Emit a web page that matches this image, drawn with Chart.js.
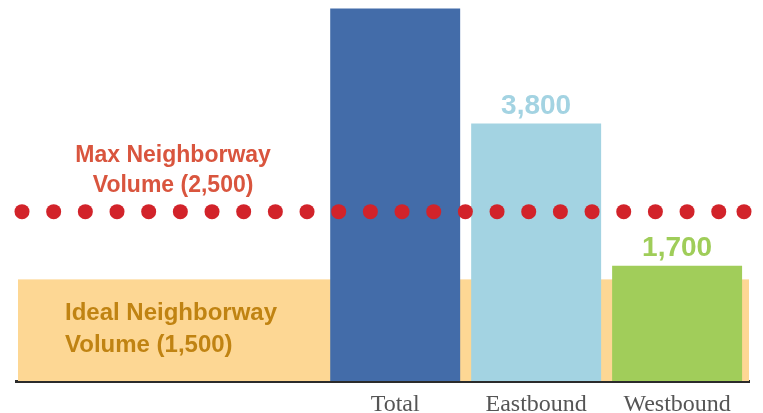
<!DOCTYPE html>
<html>
<head>
<meta charset="utf-8">
<script src="https://cdn.jsdelivr.net/npm/chart.js@4.4.1/dist/chart.umd.min.js"></script>
<style>
html,body{margin:0;padding:0;background:#fff;}
#wrap{width:763px;height:413px;position:relative;}
</style>
</head>
<body>
<div id="wrap"><canvas id="c"></canvas></div>
<script>
// ---- data ----
const categories = ['Total', 'Eastbound', 'Westbound'];
const volumes = [5500, 3800, 1700];
const barColors = ['#436ca9', '#a3d3e2', '#a1cd5a'];
const valueLabelColors = ['#436ca9', '#a3d3e2', '#9fcd59'];
const maxVolume = 2500;
const idealVolume = 1500;
const maxLabelLines = ['Max Neighborway', 'Volume (2,500)'];
const idealLabelLines = ['Ideal Neighborway', 'Volume (1,500)'];

const fmt = v => v.toLocaleString('en-US');

const overlay = {
  id: 'overlay',
  beforeDatasetsDraw(chart) {
    const {ctx, chartArea, scales} = chart;
    const y = scales.y;
    ctx.save();
    // ideal band
    const top = y.getPixelForValue(idealVolume);
    const bottom = y.getPixelForValue(0);
    ctx.fillStyle = '#fdd794';
    ctx.fillRect(chartArea.left + 2, top, chartArea.right - chartArea.left - 2, bottom - top);
    // ideal label
    ctx.fillStyle = '#c08312';
    ctx.font = 'bold 24px "Liberation Sans", Arial, sans-serif';
    ctx.textAlign = 'left';
    ctx.textBaseline = 'alphabetic';
    const lx = chartArea.left + 49;
    ctx.fillText(idealLabelLines[0], lx, top + 41);
    ctx.fillText(idealLabelLines[1], lx, top + 73);
    // max label
    const my = y.getPixelForValue(maxVolume);
    ctx.fillStyle = '#d9553e';
    ctx.font = 'bold 23px "Liberation Sans", Arial, sans-serif';
    ctx.textAlign = 'center';
    const mx = (chartArea.left + scales.x.getPixelForValue(0) - 65) / 2;
    ctx.fillText(maxLabelLines[0], mx, my - 50);
    ctx.fillText(maxLabelLines[1], mx, my - 20);
    ctx.restore();
  },
  afterDatasetsDraw(chart) {
    const {ctx, chartArea, scales} = chart;
    const y = scales.y;
    ctx.save();
    // value labels
    const meta = chart.getDatasetMeta(0);
    ctx.font = 'bold 28px "Liberation Sans", Arial, sans-serif';
    ctx.textAlign = 'center';
    ctx.textBaseline = 'alphabetic';
    meta.data.forEach((bar, i) => {
      const by = bar.y - 10;
      if (by - 22 > chartArea.top) {
        ctx.fillStyle = valueLabelColors[i];
        ctx.fillText(fmt(volumes[i]), bar.x, by);
      }
    });
    // dotted max line
    const my = y.getPixelForValue(maxVolume);
    ctx.fillStyle = '#d2232a';
    const step = 31.67;
    const start = chartArea.left + 6;
    const end = chartArea.right - 5;
    let x = start;
    let last = x;
    while (x <= end + 0.5) {
      ctx.beginPath(); ctx.arc(x, my, 7.5, 0, Math.PI * 2); ctx.fill();
      last = x; x += step;
    }
    if (end - last > 18) {
      ctx.beginPath(); ctx.arc(end, my, 7.5, 0, Math.PI * 2); ctx.fill();
    }
    ctx.restore();
  }
};

new Chart(document.getElementById('c'), {
  type: 'bar',
  data: {
    datasets: [{
      data: categories.map((c, i) => ({x: i, y: volumes[i]})),
      backgroundColor: barColors,
      borderWidth: 0,
      barPercentage: 0.922,
      categoryPercentage: 1
    }]
  },
  options: {
    responsive: true,
    maintainAspectRatio: false,
    animation: false,
    layout: {padding: {left: 16, right: 14, top: 3, bottom: 0}},
    plugins: {legend: {display: false}, tooltip: {enabled: false}},
    scales: {
      x: {
        type: 'linear',
        offset: false,
        min: -2.69,
        max: 2.51,
        grid: {display: false, drawTicks: false},
        border: {display: true, color: '#2b2b2b', width: 3},
        afterBuildTicks: s => { s.ticks = categories.map((c, i) => ({value: i})); },
        afterFit: s => { s.height = 32; },
        ticks: {
          autoSkip: false,
          maxRotation: 0,
          padding: 12,
          color: '#555555',
          font: {family: '"Liberation Serif", "Times New Roman", serif', size: 24, lineHeight: 1},
          callback: v => categories[v]
        }
      },
      y: {
        display: false,
        min: 0,
        max: 5580
      }
    }
  },
  plugins: [overlay]
});
</script>
</body>
</html>
